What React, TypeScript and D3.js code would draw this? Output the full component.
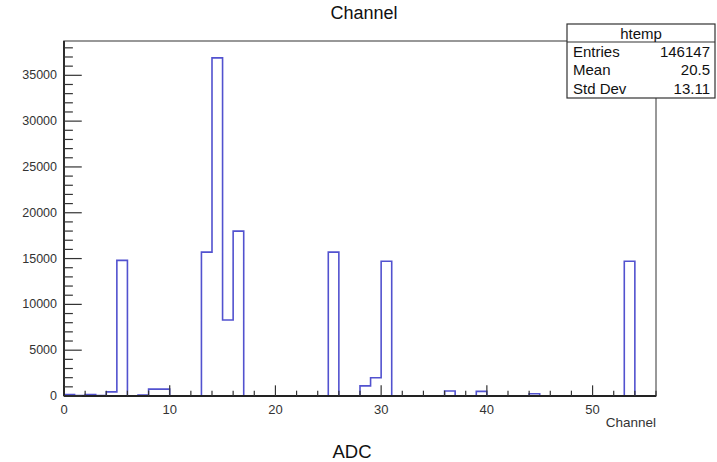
import React from "react";
import * as d3 from "d3";

// histogram contents (bin width 1, channel 0..56)
const nBins = 56;
const filledChannels = [0, 1, 2, 3, 4, 5, 7, 8, 9, 13, 14, 15, 16, 25, 28, 29, 30, 36, 39, 44, 53];
const filledCounts = [150, 50, 150, 50, 450, 14800, 100, 750, 750, 15700, 36900, 8300, 18000, 15700, 1100, 2000, 14700, 550, 500, 250, 14700];
const yTicks = [0, 5000, 10000, 15000, 20000, 25000, 30000, 35000];
const xTicks = [0, 10, 20, 30, 40, 50];
const statLabels = ["Entries", "Mean", "Std Dev"];
const statValues = ["146147", "20.5", "13.11"];

const W = 717, H = 462;
const frame = { left: 64, right: 656, top: 41, bottom: 396 };
const font = "'Liberation Sans', Arial, Helvetica, sans-serif";

export default function App() {
  const counts = d3.range(nBins).map(i => {
    const k = filledChannels.indexOf(i);
    return k >= 0 ? filledCounts[k] : 0;
  });
  const yMax = (d3.max(counts) as number) * 1.05;

  const x = d3.scaleLinear().domain([0, nBins]).range([frame.left, frame.right]);
  const y = d3.scaleLinear().domain([0, yMax]).range([frame.bottom, frame.top]);

  // step outline
  const pts: [number, number][] = [[0, 0]];
  counts.forEach((c, i) => {
    pts.push([i, c]);
    pts.push([i + 1, c]);
  });
  pts.push([nBins, 0]);
  const line = d3.line<[number, number]>().x(d => x(d[0])).y(d => y(d[1]));

  const xMinor = d3.range(0, nBins + 0.01, 2);
  const yMinor = d3.range(0, yMax, 1000);
  const xTickLen = 0.03 * (frame.bottom - frame.top);
  const yTickLen = 0.03 * (frame.right - frame.left);

  return (
    <svg width={W} height={H} style={{ position: "absolute", left: 0, top: 0, background: "#fff" }} fontFamily={font}>
      <rect x={0} y={0} width={W} height={H} fill="#fff" />
      {/* frame */}
      <rect x={frame.left} y={frame.top} width={frame.right - frame.left} height={frame.bottom - frame.top}
        fill="none" stroke="#777" strokeWidth={1.5} />
      {/* histogram */}
      <path d={line(pts) as string} fill="none" stroke="#5252cf" strokeWidth={1.6} />
      {/* x axis */}
      <line x1={frame.left} x2={frame.right} y1={frame.bottom} y2={frame.bottom} stroke="#222" strokeWidth={1.8} />
      {xMinor.map(v => {
        const major = v % 10 === 0;
        return <line key={"xm" + v} x1={x(v)} x2={x(v)} y1={frame.bottom} y2={frame.bottom - (major ? xTickLen : xTickLen / 2)}
          stroke="#333" strokeWidth={1.2} />;
      })}
      {xTicks.map(v => (
        <text key={"xt" + v} x={x(v)} y={frame.bottom + 18} textAnchor="middle" fontSize={13} fill="#333">{v}</text>
      ))}
      <text x={frame.right} y={frame.bottom + 31} textAnchor="end" fontSize={13.5} fill="#333">Channel</text>
      {/* y axis */}
      <line x1={frame.left} x2={frame.left} y1={frame.top} y2={frame.bottom} stroke="#222" strokeWidth={1.8} />
      {yMinor.map(v => {
        const major = v % 5000 === 0;
        return <line key={"ym" + v} x1={frame.left} x2={frame.left + (major ? yTickLen : yTickLen / 2)} y1={y(v)} y2={y(v)}
          stroke="#333" strokeWidth={1.2} />;
      })}
      {yTicks.map(v => (
        <text key={"yt" + v} x={frame.left - 7} y={y(v) + 4} textAnchor="end" fontSize={12.5} fill="#333">{v}</text>
      ))}
      {/* titles */}
      <text x={364} y={19} textAnchor="middle" fontSize={18} fill="#111">Channel</text>
      <text x={352} y={458} textAnchor="middle" fontSize={18.5} fill="#111">ADC</text>
      {/* stats box */}
      <g>
        <rect x={567} y={24} width={148} height={74} fill="#fff" stroke="#333" strokeWidth={1.2} />
        <line x1={567} x2={715} y1={42} y2={42} stroke="#333" strokeWidth={1.2} />
        <text x={641} y={38.5} textAnchor="middle" fontSize={15} fill="#111">htemp</text>
        {statLabels.map((s, i) => (
          <g key={s}>
            <text x={573} y={56.5 + i * 18.5} fontSize={15} fill="#111">{s}</text>
            <text x={710} y={56.5 + i * 18.5} textAnchor="end" fontSize={15} fill="#111">{statValues[i]}</text>
          </g>
        ))}
      </g>
    </svg>
  );
}
